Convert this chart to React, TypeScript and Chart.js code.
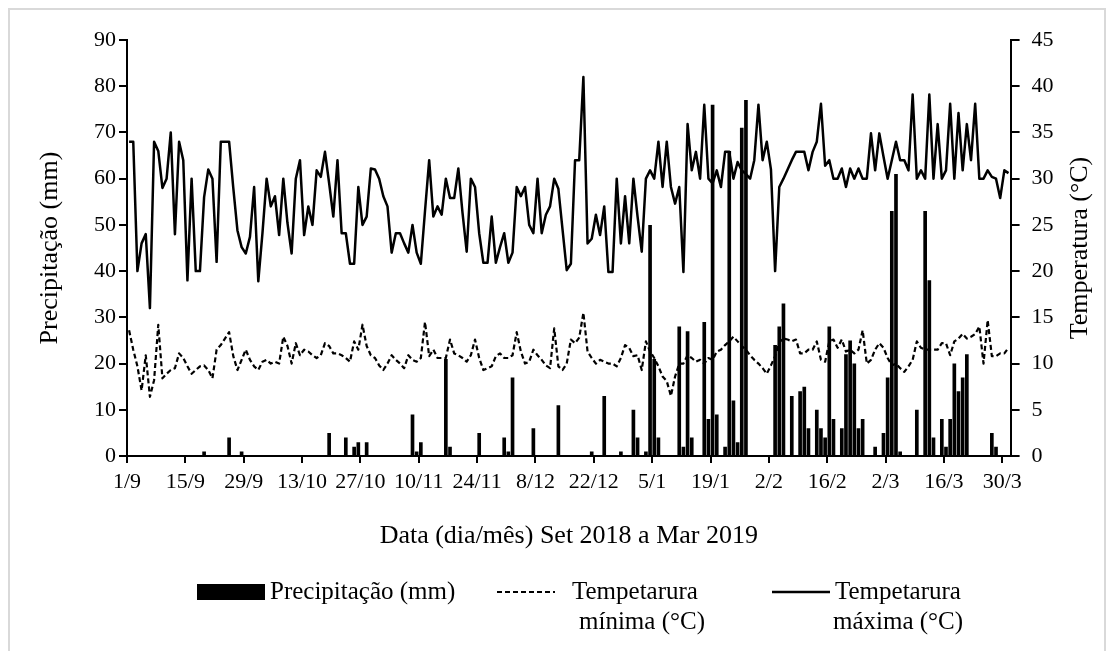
import React, { useEffect, useRef } from 'react';
import { Chart, registerables } from 'chart.js';

Chart.register(...registerables);

// ---- data (daily, 1/9/2018 .. 31/3/2019; index 0 = 1/9) ----
const tickLabels = ['1/9', '15/9', '29/9', '13/10', '27/10', '10/11', '24/11', '8/12', '22/12', '5/1', '19/1', '2/2', '16/2', '2/3', '16/3', '30/3'];

const maxTemp = [
  34, 34, 20, 23, 24, 16, 34, 33, 29, 30,
  35, 24, 34, 32, 19, 30, 20, 20, 28, 31,
  30, 21, 34, 34, 34, 29, 24.4, 22.6, 21.9, 23.7,
  29.1, 18.9, 24.1, 30, 27, 28.1, 23.9, 30, 25.2, 21.9,
  30, 32, 23.9, 27, 25, 30.9, 30.2, 32.9, 29.5, 25.9,
  32, 24.1, 24.1, 20.8, 20.8, 29.1, 25, 25.9, 31.1, 31,
  30, 28.1, 27, 22, 24.1, 24.1, 23, 22, 25, 22,
  20.8, 26.5, 32, 25.9, 27, 26.1, 30, 27.9, 27.9, 31.1,
  26.3, 22.1, 30, 29.1, 24.1, 20.9, 20.9, 25.9, 20.9, 22.6,
  24.1, 20.9, 22, 29.1, 28.1, 29.1, 25, 24.1, 30, 24.1,
  26.1, 27, 30, 28.9, 24.5, 20.1, 20.8, 32, 32, 41,
  23, 23.5, 26.1, 23.9, 27, 19.9, 19.9, 30, 23, 28.1,
  23, 30, 25.9, 22.1, 30, 30.9, 30, 34, 29.1, 34,
  29.1, 27.3, 29.1, 19.9, 35.9, 30.9, 32.9, 30, 38, 30,
  29.5, 30.9, 29.1, 32.9, 32.9, 30, 31.8, 30.9, 30.5, 30,
  32, 38, 32, 34, 31, 20, 29.1, 30, 31, 32,
  32.9, 32.9, 32.9, 30.9, 32.9, 34, 38.1, 31.4, 32, 30,
  30, 31.1, 29.1, 31.1, 30, 31.1, 30, 30, 34.9, 30.9,
  34.9, 32.4, 30, 32, 34, 32, 32, 30.9, 39.1, 30,
  30.9, 30, 39.1, 30, 35.9, 30, 30.9, 38.1, 30, 37.1,
  30.9, 35.9, 32, 38.1, 30, 30, 30.9, 30.2, 30, 27.9,
  30.9, 30.6,
];

const minTemp = [
  13.6, 11.5, 9.7, 7.1, 10.9, 6.4, 8.2, 14.2, 8.4, 8.9,
  9.3, 9.5, 11.1, 10.6, 9.7, 8.9, 9.3, 9.7, 9.8, 9.3,
  8.4, 11.5, 12.0, 12.7, 13.4, 10.8, 9.3, 10.4, 11.5, 10.4,
  9.7, 9.3, 10.2, 10.4, 10.0, 10.2, 10.0, 12.9, 11.9, 10.0,
  12.2, 10.9, 11.5, 11.3, 10.9, 10.6, 10.9, 12.2, 11.9, 11.1,
  11.1, 10.9, 10.6, 10.2, 12.4, 11.5, 14.2, 11.9, 10.9, 10.6,
  9.8, 9.3, 10.0, 10.9, 10.4, 10.0, 9.5, 10.9, 10.4, 10.2,
  10.6, 14.5, 10.8, 11.5, 10.6, 10.6, 10.6, 12.6, 11.1, 10.9,
  10.6, 10.2, 10.9, 12.6, 10.6, 9.3, 9.5, 9.7, 10.8, 11.1,
  10.6, 10.6, 10.9, 13.4, 11.3, 10.0, 10.2, 11.5, 10.9, 10.4,
  9.8, 9.5, 13.8, 9.7, 9.3, 10.0, 12.6, 12.2, 12.8, 15.5,
  11.3, 10.6, 10.0, 10.4, 10.2, 10.0, 10.0, 9.7, 10.6, 12.0,
  11.7, 10.8, 10.9, 9.3, 12.4, 11.3, 10.6, 9.7, 8.6, 8.1,
  6.5, 8.6, 10.0, 10.0, 10.9, 10.6, 10.2, 10.4, 10.0, 10.6,
  10.4, 11.3, 11.5, 12.0, 12.4, 12.9, 12.4, 11.9, 11.5, 10.9,
  10.4, 10.0, 9.5, 8.9, 9.8, 10.8, 12.3, 12.7, 12.6, 12.4,
  12.6, 11.1, 11.1, 11.5, 11.5, 12.4, 10.4, 10.2, 12.4, 12.6,
  11.7, 12.6, 11.3, 11.5, 11.1, 11.5, 13.6, 10.0, 10.4, 11.5,
  12.2, 11.7, 10.6, 9.8, 10.0, 9.5, 9.1, 9.7, 10.4, 12.4,
  11.7, 11.5, 11.5, 11.5, 11.5, 12.2, 12.2, 10.9, 12.4, 12.7,
  13.2, 12.7, 12.9, 13.2, 14.0, 10.0, 14.7, 10.8, 10.8, 11.1,
  11.1, 11.7,
];

// rainy days only (day index) and amount (mm)
const rainDay = [18, 24, 27, 48, 52, 54, 55, 57, 68, 69, 70, 76, 77, 84, 90, 91, 92, 97, 103, 111, 114, 118, 121, 122, 124, 125, 126, 127, 132, 133, 134, 135, 138, 139, 140, 141, 143, 144, 145, 146, 147, 148, 155, 156, 157, 159, 161, 162, 163, 165, 166, 167, 168, 169, 171, 172, 173, 174, 175, 176, 179, 181, 182, 183, 184, 185, 189, 191, 192, 193, 195, 196, 197, 198, 199, 200, 201, 207, 208];
const rainMm = [1, 4, 1, 5, 4, 2, 3, 3, 9, 1, 3, 21, 2, 5, 4, 1, 17, 6, 11, 1, 13, 1, 10, 4, 1, 50, 21, 4, 28, 2, 27, 4, 29, 8, 76, 9, 2, 66, 12, 3, 71, 77, 24, 28, 33, 13, 14, 15, 6, 10, 6, 4, 28, 8, 6, 22, 25, 20, 6, 8, 2, 5, 17, 53, 61, 1, 10, 53, 38, 4, 8, 2, 8, 20, 14, 17, 22, 5, 2];

const seriesNames = ['Precipitação (mm)', 'Tempetarura mínima (°C)', 'Tempetarura máxima (°C)'];
const legendLines = [['Precipitação (mm)'], ['Tempetarura', 'mínima (°C)'], ['Tempetarura', 'máxima (°C)']];
const xTitle = 'Data (dia/mês) Set 2018 a Mar 2019';
const yTitle = 'Precipitação (mm)';
const y1Title = 'Temperatura (°C)';

// ---- styling ----
const FONT = '"Liberation Serif", "Times New Roman", Times, serif';
const INK = '#000000';
const W = 1094;
const H = 646;

const extras = {
  id: 'extras',
  afterDraw(chart: any) {
    const { ctx, chartArea } = chart;
    ctx.save();
    ctx.fillStyle = INK;
    ctx.font = `26px ${FONT}`;
    ctx.textAlign = 'center';
    ctx.textBaseline = 'middle';
    ctx.translate(1070, (chartArea.top + chartArea.bottom) / 2);
    ctx.rotate(-Math.PI / 2);
    ctx.fillText(y1Title, 0, 0);
    ctx.restore();

    ctx.save();
    ctx.fillStyle = INK;
    ctx.strokeStyle = INK;
    ctx.font = `25px ${FONT}`;
    ctx.textAlign = 'left';
    ctx.textBaseline = 'middle';
    const r1 = 582;
    const r2 = 612;
    // precipitation key
    ctx.fillRect(187, 574, 68, 16);
    ctx.fillText(legendLines[0][0], 260, r1);
    // min temp key
    ctx.lineWidth = 2.2;
    ctx.setLineDash([5, 3]);
    ctx.beginPath();
    ctx.moveTo(487, r1);
    ctx.lineTo(545, r1);
    ctx.stroke();
    ctx.setLineDash([]);
    ctx.fillText(legendLines[1][0], 562, r1);
    ctx.fillText(legendLines[1][1], 569, r2);
    // max temp key
    ctx.lineWidth = 2.5;
    ctx.beginPath();
    ctx.moveTo(762, r1);
    ctx.lineTo(820, r1);
    ctx.stroke();
    ctx.fillText(legendLines[2][0], 825, r1);
    ctx.fillText(legendLines[2][1], 823, r2);
    ctx.restore();
  },
};

export default function App() {
  const ref = useRef<HTMLCanvasElement | null>(null);

  useEffect(() => {
    if (!ref.current) return;
    const tickFont = { family: FONT, size: 22 };
    const titleFont = { family: FONT, size: 26, lineHeight: 1.2 };
    const chart = new Chart(ref.current, {
      type: 'bar',
      data: {
        datasets: [
          {
            type: 'bar',
            label: seriesNames[0],
            data: rainDay.map((d, i) => ({ x: d, y: rainMm[i] })),
            backgroundColor: INK,
            borderWidth: 0,
            barPercentage: 0.88,
            categoryPercentage: 1,
            xAxisID: 'x',
            yAxisID: 'y',
            order: 0,
          } as any,
          {
            type: 'line',
            label: seriesNames[1],
            data: minTemp.map((v, i) => ({ x: i, y: v })),
            borderColor: INK,
            borderWidth: 2.2,
            borderDash: [5, 3],
            pointRadius: 0,
            tension: 0,
            fill: false,
            borderJoinStyle: 'round',
            xAxisID: 'x',
            yAxisID: 'y1',
            order: 1,
          } as any,
          {
            type: 'line',
            label: seriesNames[2],
            data: maxTemp.map((v, i) => ({ x: i, y: v })),
            borderColor: INK,
            borderWidth: 2.5,
            pointRadius: 0,
            tension: 0,
            fill: false,
            borderJoinStyle: 'round',
            xAxisID: 'x',
            yAxisID: 'y1',
            order: 2,
          } as any,
        ],
      },
      options: {
        responsive: false,
        maintainAspectRatio: false,
        animation: false,
        events: [],
        layout: { padding: { top: 30, left: 0, right: 0, bottom: H - 446 - 100 } },
        plugins: {
          legend: { display: false },
          tooltip: { enabled: false },
          title: { display: false },
        },
        scales: {
          x: {
            type: 'linear',
            min: -0.5,
            max: 211.5,
            offset: false,
            afterBuildTicks: (scale: any) => {
              scale.ticks = tickLabels.map((_, i) => ({ value: i * 14 - 0.5 }));
            },
            afterFit: (scale: any) => {
              scale.height = 100;
            },
            ticks: {
              autoSkip: false,
              maxRotation: 0,
              minRotation: 0,
              padding: 6,
              color: INK,
              font: tickFont,
              callback: (_v: any, i: number) => tickLabels[i],
            },
            grid: { drawOnChartArea: false, drawTicks: true, tickLength: 7, color: INK, lineWidth: 2, offset: false },
            border: { display: true, color: INK, width: 2 },
            title: { display: true, text: xTitle, color: INK, font: titleFont, padding: { top: 0, bottom: 4.4 } },
          } as any,
          y: {
            type: 'linear',
            position: 'left',
            min: 0,
            max: 90,
            afterFit: (scale: any) => {
              scale.width = 117;
            },
            ticks: { stepSize: 10, padding: 3, color: INK, font: tickFont },
            grid: { drawOnChartArea: false, drawTicks: true, tickLength: 8, color: INK, lineWidth: 2 },
            border: { display: true, color: INK, width: 2 },
            title: { display: true, text: yTitle, color: INK, font: titleFont, padding: { top: 24.4, bottom: 0 } },
          } as any,
          y1: {
            type: 'linear',
            position: 'right',
            min: 0,
            max: 45,
            afterFit: (scale: any) => {
              scale.width = W - 1000.6;
            },
            ticks: { stepSize: 5, padding: 12, color: INK, font: tickFont },
            grid: { drawOnChartArea: false, drawTicks: true, tickLength: 9, color: INK, lineWidth: 2 },
            border: { display: true, color: INK, width: 2 },
            title: { display: false },
          } as any,
        },
      },
      plugins: [extras],
    } as any);
    return () => chart.destroy();
  }, []);

  return (
    <div style={{ width: W, height: H, border: '2px solid #d9d9d9', background: '#ffffff' }}>
      <canvas ref={ref} width={W} height={H} style={{ display: 'block', width: W, height: H }} />
    </div>
  );
}
